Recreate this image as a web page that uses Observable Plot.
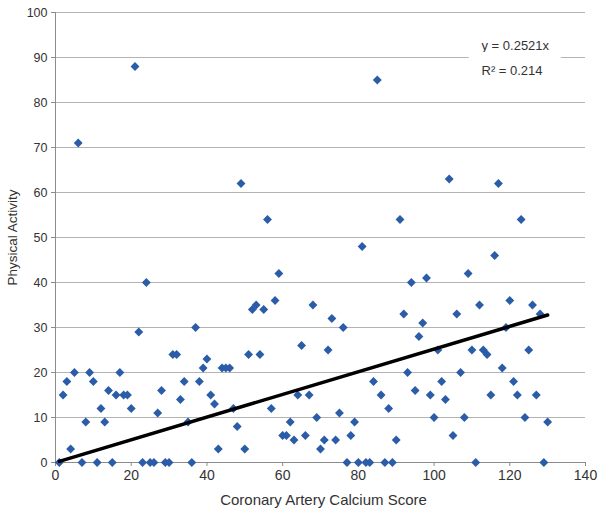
<!DOCTYPE html>
<html>
<head>
<meta charset="utf-8">
<script src="https://cdn.jsdelivr.net/npm/d3@7"></script>
<script src="https://cdn.jsdelivr.net/npm/@observablehq/plot@0.6"></script>
<style>
  html, body { margin: 0; padding: 0; background: #fff; }
</style>
</head>
<body>
<div id="chart"></div>
<script>
// Data
const calciumScore = [
  1, 2, 3, 4, 5, 6, 7, 8, 9, 10,
  11, 12, 13, 14, 15, 16, 17, 18, 19, 20,
  21, 22, 23, 24, 25, 26, 27, 28, 29, 30,
  31, 32, 33, 34, 35, 36, 37, 38, 39, 40,
  41, 42, 43, 44, 45, 46, 47, 48, 49, 50,
  51, 52, 53, 54, 55, 56, 57, 58, 59, 60,
  61, 62, 63, 64, 65, 66, 67, 68, 69, 70,
  71, 72, 73, 74, 75, 76, 77, 78, 79, 80,
  81, 82, 83, 84, 85, 86, 87, 88, 89, 90,
  91, 92, 93, 94, 95, 96, 97, 98, 99, 100,
  101, 102, 103, 104, 105, 106, 107, 108, 109, 110,
  111, 112, 113, 114, 115, 116, 117, 118, 119, 120,
  121, 122, 123, 124, 125, 126, 127, 128, 129, 130
];
const physicalActivity = [
  0, 15, 18, 3, 20, 71, 0, 9, 20, 18,
  0, 12, 9, 16, 0, 15, 20, 15, 15, 12,
  88, 29, 0, 40, 0, 0, 11, 16, 0, 0,
  24, 24, 14, 18, 9, 0, 30, 18, 21, 23,
  15, 13, 3, 21, 21, 21, 12, 8, 62, 3,
  24, 34, 35, 24, 34, 54, 12, 36, 42, 6,
  6, 9, 5, 15, 26, 6, 15, 35, 10, 3,
  5, 25, 32, 5, 11, 30, 0, 6, 9, 0,
  48, 0, 0, 18, 85, 15, 0, 12, 0, 5,
  54, 33, 20, 40, 16, 28, 31, 41, 15, 10,
  25, 18, 14, 63, 6, 33, 20, 10, 42, 25,
  0, 35, 25, 24, 15, 46, 62, 21, 30, 36,
  18, 15, 54, 10, 25, 35, 15, 33, 0, 9
];
const xTicks = [0, 20, 40, 60, 80, 100, 120, 140];
const yTicks = [0, 10, 20, 30, 40, 50, 60, 70, 80, 90, 100];
const trendSlope = 0.2521;
const rSquared = 0.214;
const trendRange = [1, 130];
const xTitle = "Coronary Artery Calcium Score";
const yTitle = "Physical Activity";

const points = calciumScore.map((x, i) => ({x, y: physicalActivity[i]}));
const trend = trendRange.map(x => ({x, y: trendSlope * x}));
const eqLabel = `y = ${trendSlope}x`;
const r2Label = `R² = ${rSquared}`;

const font = "'Liberation Sans', Arial, Helvetica, sans-serif";

const chart = Plot.plot({
  width: 602,
  height: 514,
  marginLeft: 55,
  marginRight: 17,
  marginTop: 12,
  marginBottom: 52,
  style: {fontFamily: font, fontSize: "13px", color: "#333", background: "#fff"},
  x: {domain: [0, 140]},
  y: {domain: [0, 100]},
  marks: [
    Plot.gridY(yTicks, {stroke: "#b3b3b3", strokeOpacity: 1, strokeWidth: 1}),
    Plot.text([eqLabel], {frameAnchor: "top-right", dx: -104, dy: 33, textAnchor: "start", lineAnchor: "middle",
      fill: "#333", stroke: "white", strokeWidth: 28, paintOrder: "stroke", fontSize: 13}),
    Plot.text([r2Label], {frameAnchor: "top-right", dx: -104, dy: 58, textAnchor: "start", lineAnchor: "middle",
      fill: "#333", stroke: "white", strokeWidth: 28, paintOrder: "stroke", fontSize: 13}),
    Plot.ruleX([0], {stroke: "#8c8c8c", strokeWidth: 1}),
    Plot.ruleY([0], {stroke: "#8c8c8c", strokeWidth: 1}),
    Plot.axisY(yTicks, {tickSize: 4, tickPadding: 4, stroke: "#8c8c8c", label: null, fontSize: 12.5, fill: "#333"}),
    Plot.axisX(xTicks, {tickSize: 4, tickPadding: 4, stroke: "#8c8c8c", label: null, fontSize: 14, fill: "#333"}),
    Plot.dot(points, {x: "x", y: "y", symbol: "diamond2", r: 4, fill: "#2b5ca8", stroke: null}),
    Plot.line(trend, {x: "x", y: "y", stroke: "black", strokeWidth: 3.5, strokeLinecap: "round"}),
    Plot.text([xTitle], {frameAnchor: "bottom", dy: 38, dx: 3, textAnchor: "middle", lineAnchor: "middle", fontSize: 15, fill: "#333"}),
    Plot.text([yTitle], {frameAnchor: "left", dx: -43, dy: 0, rotate: -90, textAnchor: "middle", lineAnchor: "middle", fontSize: 13.5, fill: "#333"})
  ]
});
document.getElementById("chart").appendChild(chart);
</script>
</body>
</html>
